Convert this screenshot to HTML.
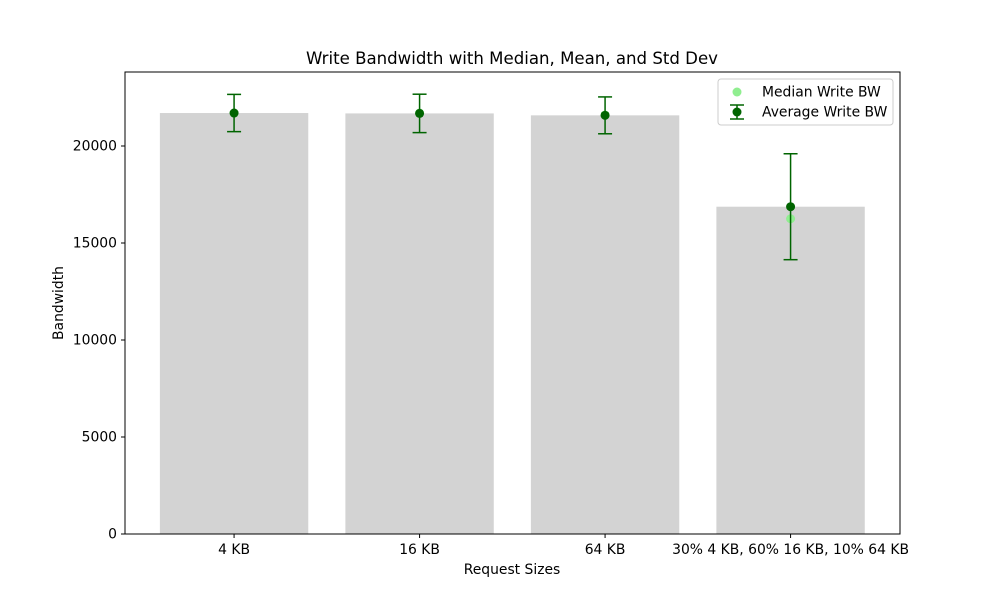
<!DOCTYPE html>
<html><head><meta charset="utf-8"><style>
body{margin:0;background:#fff;font-family:"Liberation Sans","DejaVu Sans",sans-serif}
</style></head><body>
<svg id="chart" width="1000" height="600" xmlns="http://www.w3.org/2000/svg" font-family="'DejaVu Sans','Liberation Sans',sans-serif">
<rect width="1000" height="600" fill="#fff"/>
<text x="512" y="64" text-anchor="middle" font-size="16.6">Write Bandwidth with Median, Mean, and Std Dev</text>
<g id="bars"></g><g id="marks"></g><g id="axes"></g>
<text x="512" y="574" text-anchor="middle" font-size="13.9">Request Sizes</text>
<text transform="translate(63,303) rotate(-90)" text-anchor="middle" font-size="13.9">Bandwidth</text>
<g>
<rect x="718" y="79" width="175" height="46" rx="3" fill="#fff" stroke="#ccc"/>
<circle cx="737" cy="92" r="4.5" fill="#90ee90"/>
<text x="762" y="96.5" font-size="13.9">Median Write BW</text>
<line x1="737" y1="105" x2="737" y2="119" stroke="#006400" stroke-width="1.5"/>
<line x1="730" y1="105" x2="744" y2="105" stroke="#006400" stroke-width="1.5"/>
<line x1="730" y1="119" x2="744" y2="119" stroke="#006400" stroke-width="1.5"/>
<circle cx="737" cy="112" r="4.5" fill="#006400"/>
<text x="762" y="116.5" font-size="13.9">Average Write BW</text>
</g>
</svg>
<script>
const categories=["4 KB","16 KB","64 KB","30% 4 KB, 60% 16 KB, 10% 64 KB"];
const medians=[21700,21700,21600,16250];
const means=[21700,21680,21580,16870];
const stds=[960,990,950,2730];
const yTicks=[0,5000,10000,15000,20000];
const NS="http://www.w3.org/2000/svg";
const L=125,R=900,T=72,B=534;
const xMin=-0.588,xStep=185.5;
const ymax=(B-T)/0.0194;
const x=i=>L+(i-xMin)*xStep;
const y=v=>B-v/ymax*(B-T);
function mk(tag,attrs,parent){const e=document.createElementNS(NS,tag);for(const k in attrs)e.setAttribute(k,attrs[k]);parent.appendChild(e);return e;}
const bars=document.getElementById('bars'),marks=document.getElementById('marks'),axes=document.getElementById('axes');
categories.forEach((c,i)=>{
 const w=0.8*xStep;
 const b=mk('rect',{x:x(i)-w/2,y:y(means[i]),width:w,height:B-y(means[i]),fill:'#d3d3d3'},bars);
 
 
 const cx=x(i);
 const m=mk('circle',{cx:cx,cy:y(medians[i]),r:4.5,fill:'#90ee90'},marks);
 
 
 const g=mk('g',{stroke:'#006400','stroke-width':1.5},marks);
 
 
 const t=y(means[i]+stds[i]),bt=y(means[i]-stds[i]);
 mk('line',{x1:cx,x2:cx,y1:t,y2:bt},g);
 mk('line',{x1:cx-7,x2:cx+7,y1:t,y2:t},g);
 mk('line',{x1:cx-7,x2:cx+7,y1:bt,y2:bt},g);
 const a=mk('circle',{cx:cx,cy:y(means[i]),r:4.5,fill:'#006400'},marks);
 
 
 mk('line',{x1:cx,x2:cx,y1:B,y2:B+4,stroke:'#000'},axes);
 const tl=mk('text',{x:cx,y:B+20,'text-anchor':'middle','font-size':13.9},axes);
 tl.textContent=c;
 
 
});
yTicks.forEach(v=>{
 mk('line',{x1:L-4,x2:L,y1:y(v),y2:y(v),stroke:'#000'},axes);
 const t=mk('text',{x:L-8,y:y(v)+4.5,'text-anchor':'end','font-size':13.9},axes);
 t.textContent=v;
 
 
});
const f=mk('rect',{x:L,y:T,width:R-L,height:B-T,fill:'none',stroke:'#000','stroke-width':1},axes);


</script>
</body></html>
